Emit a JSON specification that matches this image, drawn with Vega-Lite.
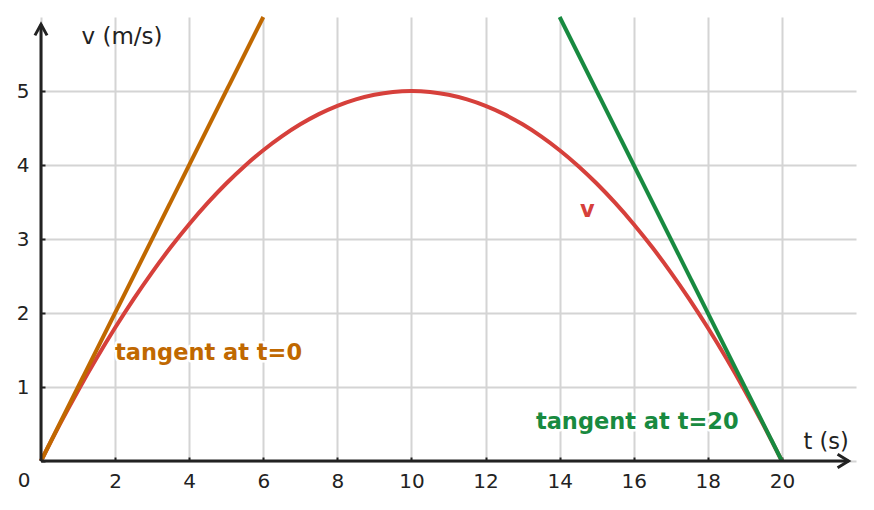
{
  "$schema": "https://vega.github.io/schema/vega-lite/v6.json",
  "width": 815,
  "height": 444,
  "autosize": {"type": "none"},
  "padding": {"left": 41, "top": 17, "right": 18, "bottom": 49},
  "background": "white",
  "config": {
    "view": {"stroke": null},
    "font": "DejaVu Sans"
  },
  "datasets": {
    "curves": [
      {"series": "v", "t": 0, "v": 0},
      {"series": "v", "t": 0.5, "v": 0.4875},
      {"series": "v", "t": 1, "v": 0.95},
      {"series": "v", "t": 1.5, "v": 1.3875},
      {"series": "v", "t": 2, "v": 1.8},
      {"series": "v", "t": 2.5, "v": 2.1875},
      {"series": "v", "t": 3, "v": 2.55},
      {"series": "v", "t": 3.5, "v": 2.8875},
      {"series": "v", "t": 4, "v": 3.2},
      {"series": "v", "t": 4.5, "v": 3.4875},
      {"series": "v", "t": 5, "v": 3.75},
      {"series": "v", "t": 5.5, "v": 3.9875},
      {"series": "v", "t": 6, "v": 4.2},
      {"series": "v", "t": 6.5, "v": 4.3875},
      {"series": "v", "t": 7, "v": 4.55},
      {"series": "v", "t": 7.5, "v": 4.6875},
      {"series": "v", "t": 8, "v": 4.8},
      {"series": "v", "t": 8.5, "v": 4.8875},
      {"series": "v", "t": 9, "v": 4.95},
      {"series": "v", "t": 9.5, "v": 4.9875},
      {"series": "v", "t": 10, "v": 5},
      {"series": "v", "t": 10.5, "v": 4.9875},
      {"series": "v", "t": 11, "v": 4.95},
      {"series": "v", "t": 11.5, "v": 4.8875},
      {"series": "v", "t": 12, "v": 4.8},
      {"series": "v", "t": 12.5, "v": 4.6875},
      {"series": "v", "t": 13, "v": 4.55},
      {"series": "v", "t": 13.5, "v": 4.3875},
      {"series": "v", "t": 14, "v": 4.2},
      {"series": "v", "t": 14.5, "v": 3.9875},
      {"series": "v", "t": 15, "v": 3.75},
      {"series": "v", "t": 15.5, "v": 3.4875},
      {"series": "v", "t": 16, "v": 3.2},
      {"series": "v", "t": 16.5, "v": 2.8875},
      {"series": "v", "t": 17, "v": 2.55},
      {"series": "v", "t": 17.5, "v": 2.1875},
      {"series": "v", "t": 18, "v": 1.8},
      {"series": "v", "t": 18.5, "v": 1.3875},
      {"series": "v", "t": 19, "v": 0.95},
      {"series": "v", "t": 19.5, "v": 0.4875},
      {"series": "v", "t": 20, "v": 0},
      {"series": "tangent at t=0", "t": 0, "v": 0},
      {"series": "tangent at t=0", "t": 6, "v": 6},
      {"series": "tangent at t=20", "t": 14, "v": 6},
      {"series": "tangent at t=20", "t": 20, "v": 0}
    ],
    "labels": [
      {"series": "tangent at t=0", "label": "tangent at t=0", "t": 2.0, "v": 1.37},
      {"series": "tangent at t=20", "label": "tangent at t=20", "t": 13.36, "v": 0.43},
      {"series": "v", "label": "v", "t": 14.55, "v": 3.3}
    ],
    "origin": [{"t": 0, "v": 0}]
  },
  "layer": [
    {
      "data": {"name": "curves"},
      "mark": {"type": "line", "strokeWidth": 4, "interpolate": "monotone", "strokeCap": "butt"},
      "encoding": {
        "x": {
          "field": "t",
          "type": "quantitative",
          "scale": {"domain": [0, 22], "nice": false, "zero": false},
          "axis": {
            "values": [0, 2, 4, 6, 8, 10, 12, 14, 16, 18, 20],
            "labelExpr": "datum.value == 0 ? '' : format(datum.value, 'd')",
            "domain": false,
            "grid": true,
            "gridColor": "#d4d4d4",
            "gridWidth": 2,
            "tickColor": "#222222",
            "tickWidth": 2,
            "tickSize": -4,
            "labelPadding": 30,
            "labelBaseline": "alphabetic",
            "labelFlush": false,
            "labelFontSize": 20,
            "labelColor": "#222222",
            "labelFont": "DejaVu Sans",
            "title": "t (s)",
            "titleFont": "DejaVu Sans",
            "titleFontSize": 22.5,
            "titleFontWeight": "normal",
            "titleColor": "#222222",
            "titleAlign": "left",
            "titleBaseline": "alphabetic",
            "titleAnchor": null,
            "titleX": 762,
            "titleY": -13
          }
        },
        "y": {
          "field": "v",
          "type": "quantitative",
          "scale": {"domain": [0, 6], "nice": false, "zero": false},
          "axis": {
            "values": [0, 1, 2, 3, 4, 5],
            "labelExpr": "datum.value == 0 ? '' : format(datum.value, 'd')",
            "domain": false,
            "grid": true,
            "gridColor": "#d4d4d4",
            "gridWidth": 2,
            "tickColor": "#222222",
            "tickWidth": 2,
            "tickSize": -4,
            "labelPadding": 16,
            "labelBaseline": "middle",
            "labelFontSize": 20,
            "labelColor": "#222222",
            "labelFont": "DejaVu Sans",
            "title": "v (m/s)",
            "titleFont": "DejaVu Sans",
            "titleFontSize": 23,
            "titleFontWeight": "normal",
            "titleColor": "#222222",
            "titleAngle": 0,
            "titleAlign": "left",
            "titleBaseline": "alphabetic",
            "titleAnchor": null,
            "titleX": 40,
            "titleY": 26
          }
        },
        "color": {
          "field": "series",
          "type": "nominal",
          "scale": {
            "domain": ["v", "tangent at t=0", "tangent at t=20"],
            "range": ["#d6403b", "#c06800", "#188a40"]
          },
          "legend": null
        }
      }
    },
    {
      "data": {"name": "origin"},
      "mark": {"type": "rule", "stroke": "#222222", "strokeWidth": 3},
      "encoding": {
        "x": {"field": "t", "type": "quantitative"},
        "x2": {"datum": 21.8},
        "y": {"field": "v", "type": "quantitative"}
      }
    },
    {
      "data": {"name": "origin"},
      "mark": {"type": "rule", "stroke": "#222222", "strokeWidth": 3},
      "encoding": {
        "x": {"field": "t", "type": "quantitative"},
        "y": {"field": "v", "type": "quantitative"},
        "y2": {"datum": 5.9}
      }
    },
    {
      "data": {"name": "origin"},
      "mark": {"type": "point", "shape": "M-1,-0.62L0,0L-1,0.62", "filled": false, "stroke": "#222222", "strokeWidth": 3, "size": 484, "opacity": 1, "strokeJoin": "miter"},
      "encoding": {
        "x": {"datum": 21.8, "type": "quantitative"},
        "y": {"field": "v", "type": "quantitative"}
      }
    },
    {
      "data": {"name": "origin"},
      "mark": {"type": "point", "shape": "M-0.55,1L0,0L0.55,1", "filled": false, "stroke": "#222222", "strokeWidth": 3, "size": 484, "opacity": 1, "strokeJoin": "miter"},
      "encoding": {
        "x": {"field": "t", "type": "quantitative"},
        "y": {"datum": 5.9, "type": "quantitative"}
      }
    },
    {
      "data": {"name": "origin"},
      "mark": {"type": "text", "text": "0", "font": "DejaVu Sans", "fontSize": 20, "fill": "#222222", "align": "center", "baseline": "alphabetic", "dx": -17, "dy": 26},
      "encoding": {
        "x": {"field": "t", "type": "quantitative"},
        "y": {"field": "v", "type": "quantitative"}
      }
    },
    {
      "data": {"name": "labels"},
      "mark": {"type": "text", "font": "DejaVu Sans", "fontSize": 22.5, "fontWeight": "bold", "baseline": "alphabetic", "align": "left", "stroke": "white", "strokeWidth": 5, "strokeJoin": "round"},
      "encoding": {
        "x": {"field": "t", "type": "quantitative"},
        "y": {"field": "v", "type": "quantitative"},
        "text": {"field": "label"},
        "color": {"value": "white"}
      }
    },
    {
      "data": {"name": "labels"},
      "mark": {"type": "text", "font": "DejaVu Sans", "fontSize": 22.5, "fontWeight": "bold", "baseline": "alphabetic", "align": "left"},
      "encoding": {
        "x": {"field": "t", "type": "quantitative"},
        "y": {"field": "v", "type": "quantitative"},
        "text": {"field": "label"},
        "color": {"field": "series", "type": "nominal", "legend": null}
      }
    }
  ]
}
